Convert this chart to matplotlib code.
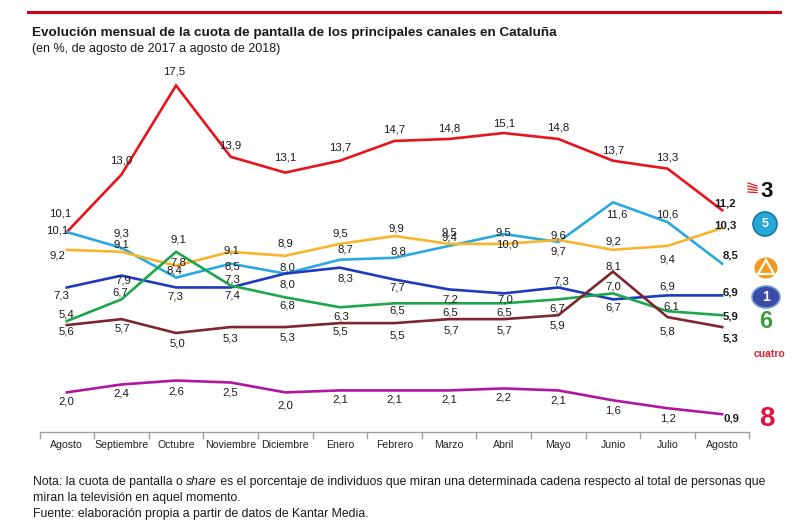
import matplotlib
matplotlib.use('Agg')
import matplotlib.pyplot as plt
from matplotlib.patches import Ellipse, Polygon
from matplotlib.lines import Line2D

# ---------------- data ----------------
months = ["Agosto", "Septiembre", "Octubre", "Noviembre", "Diciembre", "Enero",
          "Febrero", "Marzo", "Abril", "Mayo", "Junio", "Julio", "Agosto"]
tv3 = [10.1, 13.0, 17.5, 13.9, 13.1, 13.7, 14.7, 14.8, 15.1, 14.8, 13.7, 13.3, 11.2]
telecinco = [10.1, 9.3, 7.8, 8.5, 8.0, 8.7, 8.8, 9.4, 10.0, 9.6, 11.6, 10.6, 8.5]
antena3 = [9.2, 9.1, 8.4, 9.1, 8.9, 9.5, 9.9, 9.5, 9.5, 9.7, 9.2, 9.4, 10.3]
la1 = [7.3, 7.9, 7.3, 7.3, 8.0, 8.3, 7.7, 7.2, 7.0, 7.3, 6.7, 6.9, 6.9]
lasexta = [5.6, 6.7, 9.1, 7.4, 6.8, 6.3, 6.5, 6.5, 6.5, 6.7, 7.0, 6.1, 5.9]
cuatro = [5.4, 5.7, 5.0, 5.3, 5.3, 5.5, 5.5, 5.7, 5.7, 5.9, 8.1, 5.8, 5.3]
ochotv = [2.0, 2.4, 2.6, 2.5, 2.0, 2.1, 2.1, 2.1, 2.2, 2.1, 1.6, 1.2, 0.9]

# label offsets (pixels, image-down positive) -- styling only
off_tv3_dx = [-7, 0, -2, 0, 0, 0, 0, 0, 0, 0, 0, 0, 3]
off_tv3_dy = [-19, -14, -14, -11, -15, -13, -11, -10, -10, -11, -10, -11, -7]
off_t5_dx = [-10, 0, 2, 2, 2, 6, 4, 0, 3, 0, 4, 0, 8]
off_t5_dy = [-2, -14, -15, 3, -6, -10, -6, -8, 10, -6, 12, -8, -8]
off_a3_dx = [-9, 0, -2, 1, 0, 0, 2, 0, 0, 0, 0, 0, 3]
off_a3_dy = [6, -7, 5, -1, -12, -10, -7, -11, -11, 12, -8, 14, -3]
off_l1_dx = [-5, 2, -1, 2, 2, 6, 3, 1, 2, 3, 0, 0, 8]
off_l1_dy = [8, 5, 9, -8, 11, 11, 8, 10, 6, -6, 8, -9, -3]
off_l6_dx = [0, -1, 2, 2, 2, 1, 3, 1, 1, -1, 0, 4, 8]
off_l6_dy = [10, -7, -12, 10, 8, 9, 7, 9, 9, 9, -7, -5, 1]
off_c4_dx = [0, 1, 1, 0, 2, 1, 3, 2, 1, -1, 0, 0, 8]
off_c4_dy = [-11, 9, 10, 11, 10, 8, 12, 11, 11, 10, -5, 14, 11]
off_8_dx = [0, 0, 0, 0, 0, 0, 0, 0, 0, 0, 0, 0, 9]
off_8_dy = [9, 9, 11, 10, 13, 9, 9, 9, 9, 10, 10, 10, 4]

series = [
    (tv3, '#e8141c', off_tv3_dx, off_tv3_dy),
    (telecinco, '#2aa9e0', off_t5_dx, off_t5_dy),
    (antena3, '#f7b52c', off_a3_dx, off_a3_dy),
    (la1, '#1f3bbd', off_l1_dx, off_l1_dy),
    (lasexta, '#1ea64c', off_l6_dx, off_l6_dy),
    (cuatro, '#7d2630', off_c4_dx, off_c4_dy),
    (ochotv, '#b0169e', off_8_dx, off_8_dy),
]

REG = ['Liberation Sans', 'DejaVu Sans']

W, H = 800, 528
fig = plt.figure(figsize=(8, 5.28), dpi=100)

def fx(x):
    return x / W

def fy(y):
    return 1 - y / H

# axes: categories at x=67..722, y=0 at pixel 432
x0, x1 = 39.5, 749.5
ytop, ybot = 60, 432
ax = fig.add_axes([fx(x0), fy(ybot), (x1 - x0) / W, (ybot - ytop) / H])
ymax = (ybot - ytop) / 19.8
ax.set_xlim(-0.5, 12.5)
ax.set_ylim(0, ymax)

xs = list(range(len(months)))
for vals, col, dxs, dys in series:
    ax.plot(xs, vals, color=col, lw=1.9, solid_joinstyle='miter', clip_on=False, zorder=2)
    for i, v in enumerate(vals):
        last = (i == len(vals) - 1)
        ax.annotate(f"{v:.1f}".replace('.', ','), (i, v),
                    xytext=(dxs[i], -dys[i]), textcoords='offset pixels',
                    ha='center', va='center', fontsize=8.2,
                    fontweight='bold' if last else 'normal',
                    family=REG, color='#1a1a1a', zorder=3)

for s in ['top', 'right', 'left']:
    ax.spines[s].set_visible(False)
ax.spines['bottom'].set_color('#a0a0a0')
ax.spines['bottom'].set_linewidth(1.0)
ax.set_yticks([])
ax.set_xticks(xs)
ax.set_xticklabels(months, family=REG, fontsize=7.6, color='#222222')
ax.tick_params(axis='x', which='major', length=0, pad=6)
ax.set_xticks([i - 0.5 for i in range(len(months) + 1)], minor=True)
ax.tick_params(axis='x', which='minor', length=5, width=1.0, color='#a0a0a0', direction='out')
ax.patch.set_visible(False)

# header
fig.add_artist(Line2D([fx(28), fx(780)], [fy(12), fy(12)], color='#d0021b', lw=2.2))
fig.text(fx(32), fy(33), "Evolución mensual de la cuota de pantalla de los principales canales en Cataluña",
         family=REG, fontweight='bold', fontsize=9.7, color='#1a1a1a', ha='left', va='center')
fig.text(fx(32), fy(49), "(en %, de agosto de 2017 a agosto de 2018)",
         family=REG, fontsize=9.0, color='#1a1a1a', ha='left', va='center')

# footnote (with italic "share")
renderer = fig.canvas.get_renderer()
fs_note = 8.8
parts = [("Nota: la cuota de pantalla o ", 'normal'), ("share", 'italic'),
         (" es el porcentaje de individuos que miran una determinada cadena respecto al total de personas que", 'normal')]
xcur = 33
for txt, sty in parts:
    t = fig.text(fx(xcur), fy(482), txt, family=REG, fontsize=fs_note, style=sty,
                 color='#1a1a1a', ha='left', va='center')
    bb = t.get_window_extent(renderer=renderer)
    xcur += bb.width
fig.text(fx(33), fy(498), "miran la televisión en aquel momento.",
         family=REG, fontsize=fs_note, color='#1a1a1a', ha='left', va='center')
fig.text(fx(33), fy(514), "Fuente: elaboración propia a partir de datos de Kantar Media.",
         family=REG, fontsize=fs_note, color='#1a1a1a', ha='left', va='center')

# channel logos (approximate)
# TV3
fig.text(fx(767), fy(191), "3", family=REG, fontweight='bold', fontsize=16, color='#111111',
         ha='center', va='center')
for k in range(4):
    fig.add_artist(Line2D([fx(748), fx(757)], [fy(183 + k * 3), fy(186 + k * 2.2)],
                          color='#e8141c', lw=0.9))
# Telecinco
fig.add_artist(Ellipse((fx(765), fy(224)), 24 / W, 24 / H, facecolor='#27a7d6',
                       edgecolor='#137a9c', lw=1.2, transform=fig.transFigure))
fig.text(fx(765), fy(224), "5", family=REG, fontweight='bold', fontsize=9, color='white',
         ha='center', va='center')
# Antena 3
fig.add_artist(Ellipse((fx(766), fy(268)), 23 / W, 21 / H, facecolor='#f39a1e',
                       edgecolor='none', transform=fig.transFigure))
fig.add_artist(Polygon([(fx(766), fy(260)), (fx(758), fy(274)), (fx(774), fy(274))],
                       closed=True, facecolor='none', edgecolor='white', lw=1.6,
                       transform=fig.transFigure))
# La 1
fig.add_artist(Ellipse((fx(766), fy(297)), 28 / W, 22 / H, facecolor='#3d4aa6',
                       edgecolor='#6fa0d8', lw=1.2, transform=fig.transFigure))
fig.text(fx(766), fy(297), "1", family=REG, fontweight='bold', fontsize=10, color='white',
         ha='center', va='center')
# La Sexta
fig.text(fx(766), fy(322), "6", family=REG, fontweight='bold', fontsize=17, color='#3c9b3a',
         ha='center', va='center')
# Cuatro
fig.text(fx(770), fy(354), "cuatro", family=REG, fontweight='bold', fontsize=7.5, color='#e3202c',
         ha='center', va='center')
# 8tv
fig.text(fx(767), fy(419), "8", family=REG, fontweight='bold', fontsize=20, color='#e0143c',
         ha='center', va='center')

fig.savefig('out.png', dpi=100)
